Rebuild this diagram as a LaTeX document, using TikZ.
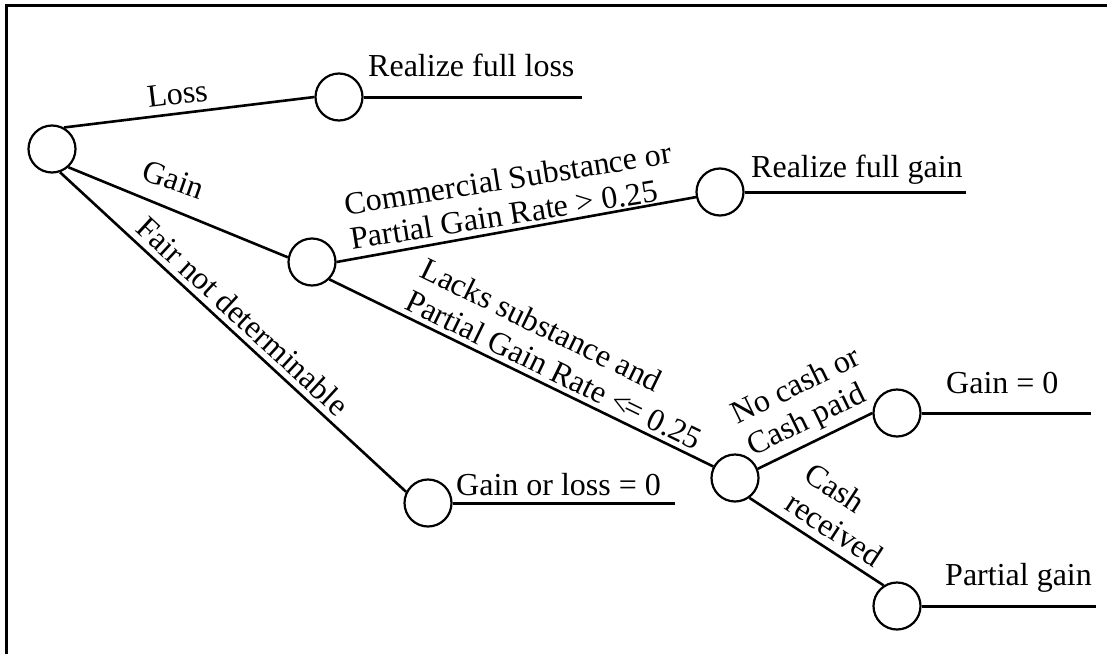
\documentclass[tikz,border=0pt]{standalone}
\usepackage{fontspec}
\setmainfont{Liberation Serif}
\begin{document}
\begin{tikzpicture}[x=1pt,y=-1pt,
  every node/.style={font=\fontsize{32}{35}\selectfont},
  dec/.style={circle, draw, line width=2.2pt, minimum size=47pt, inner sep=0pt},
  branch/.style={line width=2.6pt},
  payoff/.style={line width=3pt},
  frame/.style={line width=3pt},
  outtext/.style={anchor=base west, inner sep=0pt},
  lbl/.style={sloped, anchor=south west, inner xsep=0pt, text depth=0pt, align=left}
]
\useasboundingbox (0,0) rectangle (1107,653);
\begin{scope}
\clip (0,0) rectangle (1107,653);
\draw[frame] (6.5,665) -- (6.5,5) -- (1120,5);
\end{scope}

% decision / chance nodes
\node[dec] (root)  at (52,149) {};
\node[dec] (loss)  at (339,97) {};
\node[dec] (gain)  at (312,262) {};
\node[dec] (fgain) at (720,192) {};
\node[dec] (gol)   at (428,503) {};
\node[dec] (cash)  at (735,478) {};
\node[dec] (gzero) at (897,413) {};
\node[dec] (pgain) at (897,606) {};

% branches with labels
\draw[branch] (root.61) -- node[lbl, pos=0.337, inner ysep=8pt] {Loss} (loss.west);
\draw[branch] (root.-48) -- node[lbl, pos=0.30, inner ysep=15pt, rotate=3] {Gain} (gain.169);
\draw[branch] (root.-71.5) -- node[lbl, pos=0.197, inner ysep=6pt] {Fair not determinable} (gol.153);
\draw[branch] (gain.east) -- node[lbl, pos=0.044, inner ysep=8pt, rotate=-1.2] {Commercial Substance or\\Partial Gain Rate > 0.25} (fgain.192);
\draw[branch] (gain.-45) -- node[lbl, pos=0.182, inner ysep=5pt] {Lacks substance and\\Partial Gain Rate <\kern-0.12em= 0.25} (cash.152.5);
\draw[branch] (cash.22.6) -- node[lbl, pos=0.0, inner ysep=12pt] {No cash or\\Cash paid} (gzero.west);
\draw[branch] (cash.-54.8) -- node[lbl, pos=0.205, inner ysep=8pt] {Cash\\received} (pgain.123);

% payoff lines
\coordinate (lossend)  at (582,97);
\coordinate (fgainend) at (966,192);
\coordinate (golend)   at (675,503);
\coordinate (gzeroend) at (1091,413);
\coordinate (pgainend) at (1096,606);
\draw[payoff] (loss.east)  -- (lossend);
\draw[payoff] (fgain.east) -- (fgainend);
\draw[payoff] (gol.east)   -- (golend);
\draw[payoff] (gzero.east) -- (gzeroend);
\draw[payoff] (pgain.east) -- (pgainend);

% outcome texts
\node[outtext] (tloss)  at (368,76)  {Realize full loss};
\node[outtext] (tfgain) at (751,177) {Realize full gain};
\node[outtext] (tgol)   at (456,495) {Gain or loss = 0};
\node[outtext] (tgzero) at (946,393) {Gain = 0};
\node[outtext] (tpgain) at (945,585) {Partial gain};
\end{tikzpicture}
\end{document}
